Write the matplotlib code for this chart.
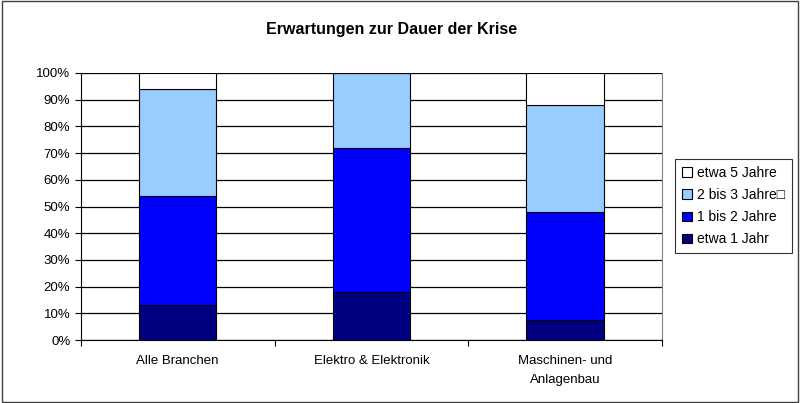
import matplotlib
matplotlib.use("Agg")
import matplotlib.pyplot as plt
from matplotlib.patches import Rectangle
import numpy as np

plt.rcParams["font.family"] = ["Liberation Sans", "DejaVu Sans"]

# ---------------------------------------------------------------------------
# Data (percent shares)
# ---------------------------------------------------------------------------
categories = ["Alle Branchen", "Elektro & Elektronik", "Maschinen- und\nAnlagenbau"]
etwa_1_jahr = [13, 18, 7.5]
ein_bis_2_jahre = [41, 54, 40.5]
zwei_bis_3_jahre = [40, 28, 40]
etwa_5_jahre = [6, 0, 12]

series = [
    ("etwa 1 Jahr", etwa_1_jahr, "#000080"),
    ("1 bis 2 Jahre", ein_bis_2_jahre, "#0000FF"),
    ("2 bis 3 Jahre\u25a1", zwei_bis_3_jahre, "#99CCFF"),
    ("etwa 5 Jahre", etwa_5_jahre, "#FFFFFF"),
]
y_ticks = np.arange(0, 101, 10)
y_tick_labels = [f"{v}%" for v in y_ticks]

fig = plt.figure(figsize=(8, 4.03), dpi=100)
ax = fig.add_axes([0.101, 0.156, 0.7265, 0.663])

x = np.arange(len(categories))
bottom = np.zeros(len(categories))
handles = []
for label, values, color in series:
    vals = np.array(values, dtype=float)
    bars = ax.bar(x, vals, width=0.4, bottom=bottom, color=color,
                  edgecolor="black", linewidth=0.8, label=label, zorder=3)
    handles.append(bars)
    bottom += vals

ax.set_xlim(-0.5, len(categories) - 0.5)
ax.set_ylim(0, 100)
ax.set_yticks(y_ticks)
ax.set_yticklabels(y_tick_labels, fontsize=9.5)
ax.yaxis.grid(True, color="black", linewidth=0.9, zorder=0)

# category ticks sit between groups, labels centred under bars
ax.set_xticks(np.arange(-0.5, len(categories), 1.0))
ax.set_xticklabels([])
ax.set_xticks(x, minor=True)
ax.set_xticklabels(categories, minor=True, fontsize=9.5, linespacing=1.75)
ax.tick_params(axis="x", which="minor", length=0, pad=11)
ax.tick_params(axis="x", which="major", length=4, direction="out")
ax.tick_params(axis="y", length=4, direction="out")

ax.spines["top"].set_visible(False)
ax.spines["right"].set_color("#808080")
ax.spines["left"].set_color("black")
ax.spines["bottom"].set_color("black")

fig.suptitle("Erwartungen zur Dauer der Krise", x=0.49, y=0.945,
             fontsize=11.5, fontweight="bold")

leg = fig.legend(handles[::-1], [s[0] for s in series][::-1],
                 loc="upper left", bbox_to_anchor=(0.844, 0.605),
                 borderaxespad=0, fontsize=10, frameon=True, fancybox=False,
                 handlelength=0.7, handleheight=0.7, handletextpad=0.35,
                 labelspacing=0.58, borderpad=0.5, edgecolor="black")
leg.get_frame().set_linewidth(0.8)

# outer chart border
fig.patches.append(Rectangle((0.002, 0.003), 0.996, 0.994, transform=fig.transFigure,
                             fill=False, edgecolor="#404040", linewidth=1.0))

fig.savefig("out.png", dpi=100)
